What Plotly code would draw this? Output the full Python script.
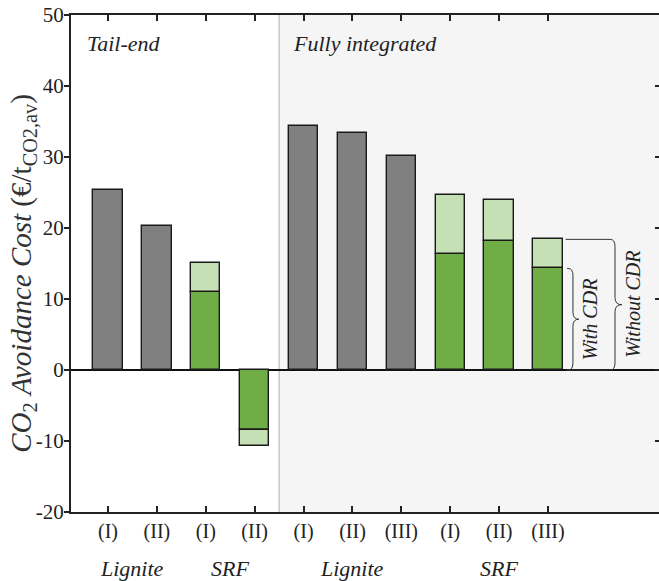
import plotly.graph_objects as go

# ---- data ----
categories = ["(I)", "(II)", "(I)", "(II)", "(I)", "(II)", "(III)", "(I)", "(II)", "(III)"]
group_labels = ["Lignite", "SRF", "Lignite", "SRF"]
group_centers = [0.5, 2.5, 5, 8]
lignite_cost = [25.4, 20.3, None, None, 34.3, 33.4, 30.2, None, None, None]
srf_with_cdr = [None, None, 11.0, -8.45, None, None, None, 16.4, 18.2, 14.3]
srf_without_cdr = [None, None, 15.1, -10.7, None, None, None, 24.6, 23.9, 18.4]
section_labels = ["Tail-end", "Fully integrated"]
n_tail_end = 4
yticks = [50, 40, 30, 20, 10, 0, -10, -20]

x = list(range(len(categories)))
srf_cdr_extra = [None if (a is None or b is None) else round(b - a, 3)
                 for a, b in zip(srf_with_cdr, srf_without_cdr)]

FONT = "Liberation Serif"
INK = "#222222"
GRAY = "#808080"
DARK_GREEN = "#70ad47"
LIGHT_GREEN = "#c5e0b4"
BW = 0.6

fig = go.Figure()
line_style = dict(color="#1a1a1a", width=1.4)
fig.add_trace(go.Bar(x=x, y=lignite_cost, marker=dict(color=GRAY, line=line_style), width=BW, showlegend=False))
fig.add_trace(go.Bar(x=x, y=srf_with_cdr, marker=dict(color=DARK_GREEN, line=line_style), width=BW, showlegend=False))
fig.add_trace(go.Bar(x=x, y=srf_cdr_extra, marker=dict(color=LIGHT_GREEN, line=line_style), width=BW, showlegend=False))
fig.add_trace(go.Scatter(x=[0], y=[0], yaxis="y2", mode="markers", marker=dict(opacity=0), showlegend=False,
                         hoverinfo="skip"))

xr = [-0.757, 11.27]
yr = [-20, 50]
sep = n_tail_end - 0.5

shapes = [
    dict(type="rect", xref="x", yref="paper", x0=sep, x1=xr[1], y0=0, y1=1,
         fillcolor="#f5f5f5", line=dict(width=0), layer="below"),
    dict(type="line", xref="x", yref="paper", x0=sep, x1=sep, y0=0, y1=1,
         line=dict(color="#b0b0b0", width=1), layer="below"),
]

# braces on the last bar
i = len(categories) - 1
yw = srf_with_cdr[i]
yo = srf_without_cdr[i]
r = 1.0

def brace(xstart, xv, xtip, ytop, ybot):
    ym = (ytop + ybot) / 2
    h = 0.1
    return (f"M {xstart},{ytop} L {xv - h},{ytop} Q {xv},{ytop} {xv},{ytop - r} "
            f"L {xv},{ym + r} Q {xv},{ym} {xtip},{ym} Q {xv},{ym} {xv},{ym - r} "
            f"L {xv},{ybot + r} Q {xv},{ybot} {xv - h},{ybot} L {xstart},{ybot}")

bstyle = dict(color="#333333", width=1)
shapes.append(dict(type="path", xref="x", yref="y", path=brace(i + 0.39, i + 0.51, i + 0.63, yw, 0), line=bstyle))
shapes.append(dict(type="path", xref="x", yref="y", path=brace(i + 0.36, i + 1.37, i + 1.51, yo, 0), line=bstyle))

annotations = [
    dict(x=-0.47, y=46, xref="x", yref="y", text=f"<i>{section_labels[0]}</i>", showarrow=False,
         xanchor="left", yanchor="middle", font=dict(family=FONT, size=22, color=INK)),
    dict(x=3.74, y=46, xref="x", yref="y", text=f"<i>{section_labels[1]}</i>", showarrow=False,
         xanchor="left", yanchor="middle", font=dict(family=FONT, size=22, color=INK)),
    dict(x=i + 0.86, y=yw / 2, xref="x", yref="y", text="<i>With CDR</i>", textangle=-90, showarrow=False,
         xanchor="center", yanchor="middle", font=dict(family=FONT, size=20, color=INK)),
    dict(x=i + 1.74, y=yo / 2, xref="x", yref="y", text="<i>Without CDR</i>", textangle=-90, showarrow=False,
         xanchor="center", yanchor="middle", font=dict(family=FONT, size=20, color=INK)),
    dict(x=-0.081, y=0.48, xref="paper", yref="paper",
         text="<i>CO</i><sub>2</sub> <i>Avoidance Cost</i> (€/t<sub>CO2,av</sub>)",
         textangle=-90, showarrow=False, xanchor="center", yanchor="middle",
         font=dict(family=FONT, size=29, color="#333333")),
]
for lab, cx in zip(group_labels, group_centers):
    annotations.append(dict(x=cx, y=-0.113, xref="x", yref="paper", text=f"<i>{lab}</i>", showarrow=False,
                            xanchor="center", yanchor="middle", font=dict(family=FONT, size=22, color=INK)))

fig.update_layout(
    width=659, height=581,
    margin=dict(l=71, r=0, t=15, b=69),
    paper_bgcolor="white", plot_bgcolor="white",
    barmode="relative",
    bargap=0,
    shapes=shapes,
    annotations=annotations,
    xaxis=dict(type="linear", range=xr, tickvals=x, ticktext=categories, ticks="inside", ticklen=6, tickwidth=2,
               tickcolor=INK, showline=True, linecolor=INK, linewidth=2, mirror="ticks",
               showgrid=False, zeroline=False, tickfont=dict(family=FONT, size=20, color=INK)),
    yaxis=dict(range=yr, tickvals=yticks, ticktext=[str(v) for v in yticks], ticks="outside", ticklen=5,
               tickwidth=2, tickcolor=INK, showline=True, linecolor=INK, linewidth=2,
               showgrid=False, zeroline=True, zerolinecolor="#111111", zerolinewidth=1.5,
               ticklabelstandoff=-4,
               tickfont=dict(family=FONT, size=21, color=INK)),
    yaxis2=dict(range=yr, overlaying="y", side="right", tickvals=yticks, ticks="inside", ticklen=4,
                tickwidth=2, tickcolor=INK, showticklabels=False, showline=False, showgrid=False,
                zeroline=False),
)

fig.write_html("out.html")
